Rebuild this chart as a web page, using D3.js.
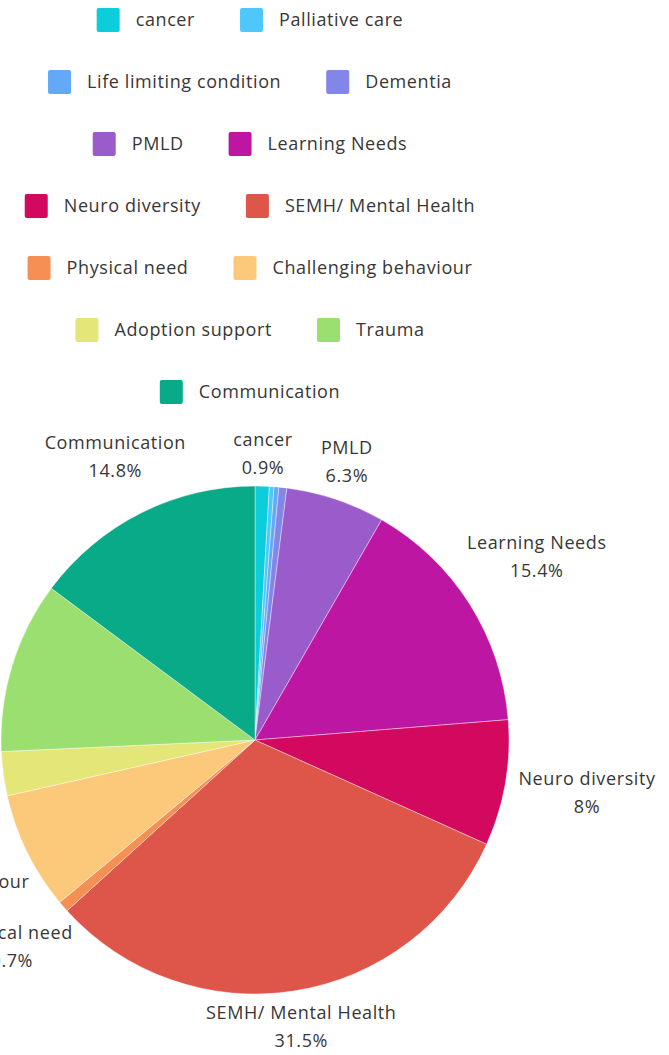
<!DOCTYPE html>
<html>
<head>
<meta charset="utf-8">
<script src="https://cdn.jsdelivr.net/npm/d3@7"></script>
<style>
  body { margin: 0; background: #fff; overflow: hidden; }
  svg { display: block; }
  .txt { font-family: "Open Sans", Lato, sans-serif; font-size: 18px; font-weight: 400; letter-spacing: 0.6px; fill: #373737; }
</style>
</head>
<body>
<svg id="viz-svg" width="669" height="1055"></svg>
<script>
// chart values (percent of cases)
var categories = ["cancer", "Palliative care", "Life limiting condition", "Dementia",
  "PMLD", "Learning Needs", "Neuro diversity", "SEMH/ Mental Health",
  "Physical need", "Challenging behaviour", "Adoption support", "Trauma", "Communication"];
var values = [0.9, 0.3, 0.3, 0.5, 6.3, 15.4, 8, 31.5, 0.7, 7.5, 2.8, 10.9, 14.8];
var colours = ["#0ccddc", "#4fc7fa", "#64a8f8", "#8286e8", "#9b5ccb", "#bc16a2",
  "#d3085f", "#de554a", "#f58f53", "#fcc97a", "#e5e678", "#9cdf71", "#08aa88"];

var svg = d3.select("#viz-svg")
  , cx = 255
  , cy = 740
  , radius = 254
  , labelGap = 267
  , minLabel = 0.6;

var data = categories.map(function(c, i){ return {name: c, value: values[i], colour: colours[i]}; });

// legend, two items per row, centred on the pie
function drawLegend(){
  var legend = svg.append("g").attr("id", "legend-container")
    , rowH = 62
    , sw = 23
    , pad = 16
    , between = 45;

  d3.range(0, data.length, 2).forEach(function(start, r){
    var row = legend.append("g")
      , x = 0;
    data.slice(start, start + 2).forEach(function(d){
      var item = row.append("g").attr("transform", "translate(" + x + ",0)");
      item.append("rect")
        .attr("x", 0).attr("y", -12)
        .attr("width", sw).attr("height", 24)
        .attr("rx", 2)
        .attr("fill", d.colour);
      var t = item.append("text")
        .classed("txt", true)
        .attr("x", sw + pad)
        .attr("dy", "0.35em")
        .text(d.name);
      x += sw + pad + t.node().getComputedTextLength() + between;
    });
    x -= between;
    row.attr("transform", "translate(" + (250 - x/2) + "," + (20 + r*rowH) + ")");
  });
}

function drawPie(){
  var pie = d3.pie().sort(null).value(function(d){ return d.value; })
    , arc = d3.arc().innerRadius(0).outerRadius(radius)
    , arcs = pie(data)
    , g = svg.append("g").attr("transform", "translate(" + cx + "," + cy + ")");

  g.selectAll("path.slice")
    .data(arcs)
    .enter().append("path")
    .attr("class", "slice")
    .attr("d", arc)
    .attr("fill", function(d){ return d.data.colour; })
    .attr("stroke", "#fff")
    .attr("stroke-width", 0.4);

  var labels = g.selectAll("g.pie-label")
    .data(arcs.filter(function(d){ return d.data.value >= minLabel; }))
    .enter().append("g")
    .attr("class", "pie-label");

  labels.append("text")
    .classed("txt", true)
    .attr("text-anchor", "middle")
    .attr("y", -14)
    .attr("dy", "0.35em")
    .text(function(d){ return d.data.name; });
  labels.append("text")
    .classed("txt", true)
    .attr("text-anchor", "middle")
    .attr("y", 14)
    .attr("dy", "0.35em")
    .text(function(d){ return d.data.value + "%"; });

  // push each label out until its box clears the pie
  labels.attr("transform", function(d){
    var a = (d.startAngle + d.endAngle)/2
      , w = d3.max(d3.select(this).selectAll("text").nodes(), function(n){ return n.getComputedTextLength(); })
      , r = labelGap + Math.abs(Math.sin(a))*w/2 + Math.abs(Math.cos(a))*14;
    return "translate(" + (r*Math.sin(a)) + "," + (-r*Math.cos(a) - 5) + ")";
  });
}

drawLegend();
drawPie();
</script>
</body>
</html>
